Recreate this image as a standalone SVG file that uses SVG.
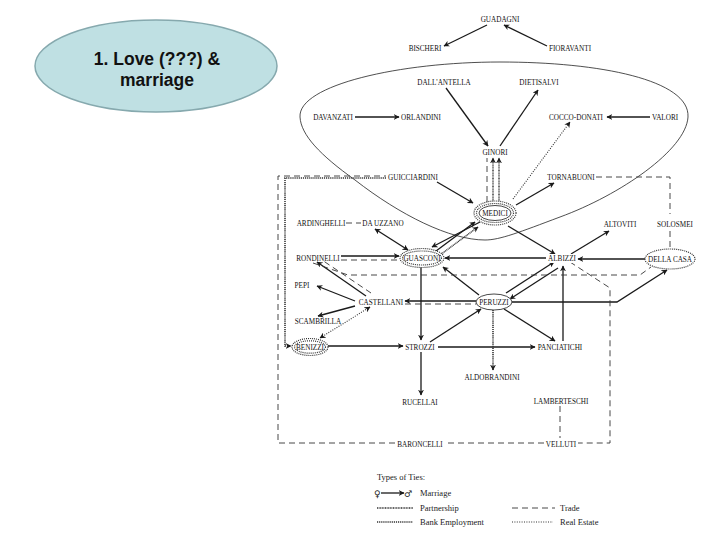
<svg xmlns="http://www.w3.org/2000/svg" width="720" height="540" viewBox="0 0 720 540">
<style>
.lbl{font-family:"Liberation Serif","Times New Roman",serif;font-size:7.2px;fill:#111;text-anchor:middle}
.leg{font-family:"Liberation Serif","Times New Roman",serif;font-size:8.5px;fill:#222}
.m{fill:none;stroke:#1a1a1a;stroke-width:1.3;marker-end:url(#ah)}
.mb{fill:none;stroke:#1a1a1a;stroke-width:1.3;marker-end:url(#ah);marker-start:url(#ahs)}
.tr{fill:none;stroke:#333;stroke-width:0.9;stroke-dasharray:6 4}
.re{fill:none;stroke:#333;stroke-width:1.1;stroke-dasharray:1 1.4}
.bk{fill:none;stroke:#333;stroke-width:1.6;stroke-dasharray:1.2 0.9}
.pt{fill:none;stroke:#333;stroke-width:1.4;stroke-dasharray:1 0.6}
.dot{fill:#fff;stroke:#333;stroke-width:1.2;stroke-dasharray:1 1}
.sol{fill:#fff;stroke:#333;stroke-width:0.9}
</style>
<defs>
<marker id="ah" viewBox="0 0 10 10" refX="9" refY="5" markerWidth="6" markerHeight="6" markerUnits="userSpaceOnUse" orient="auto"><path d="M0,0 L10,5 L0,10 L3,5 Z" fill="#1a1a1a"/></marker>
<marker id="ahs" viewBox="0 0 10 10" refX="1" refY="5" markerWidth="6" markerHeight="6" markerUnits="userSpaceOnUse" orient="auto"><path d="M10,0 L0,5 L10,10 L7,5 Z" fill="#1a1a1a"/></marker>
</defs>
<rect width="720" height="540" fill="#fff"/>

<g id="title">
<ellipse cx="156" cy="66" rx="121" ry="46" fill="#bfe0e3" stroke="#86a9ae" stroke-width="1.5"/>
<text x="157" y="65" font-family="Liberation Sans,Arial,sans-serif" font-size="17.5" font-weight="bold" text-anchor="middle" fill="#111">1. Love (???) &amp;</text>
<text x="157" y="86" font-family="Liberation Sans,Arial,sans-serif" font-size="17.5" font-weight="bold" text-anchor="middle" fill="#111">marriage</text>
</g>

<g id="medici-bloc">
<path d="M300,117 C298,85 400,62 500,62 C600,62 690,80 688,117 C686,150 620,195 560,217 C520,232 500,240 485,240 C450,240 400,215 355,180 C320,155 301,135 300,117 Z" fill="none" stroke="#222" stroke-width="0.8"/>
</g>

<g id="connectors">
<!-- marriage -->
<line class="m" x1="487" y1="25" x2="444" y2="46"/>
<line class="m" x1="547" y1="46" x2="504" y2="25"/>
<line class="m" x1="355" y1="117" x2="399" y2="117"/>
<line class="m" x1="650" y1="117" x2="607" y2="117"/>
<line class="m" x1="446" y1="88" x2="488" y2="146"/>
<line class="m" x1="500" y1="146" x2="538" y2="90"/>
<line class="m" x1="437" y1="182" x2="473" y2="203"/>
<line class="m" x1="516" y1="205" x2="554" y2="183"/>
<line class="m" x1="508" y1="226" x2="555" y2="254"/>
<line class="m" x1="571" y1="254" x2="609" y2="231"/>
<line class="m" x1="645" y1="259" x2="578" y2="259"/>
<line class="m" x1="546" y1="258" x2="445" y2="258"/>
<line class="m" x1="341" y1="256" x2="399" y2="256"/>
<line class="mb" x1="375" y1="229" x2="408" y2="250"/>
<line class="m" x1="421" y1="267" x2="421" y2="340"/>
<line class="m" x1="479" y1="295" x2="443" y2="267"/>
<line class="m" x1="476" y1="301" x2="405" y2="301"/>
<line class="m" x1="366" y1="296" x2="317" y2="262"/>
<line class="m" x1="355" y1="301" x2="317" y2="286"/>
<line class="m" x1="355" y1="306" x2="318" y2="316"/>
<line class="m" x1="328" y1="346" x2="403" y2="346"/>
<line class="m" x1="430" y1="342" x2="481" y2="309"/>
<line class="m" x1="504" y1="309" x2="555" y2="341"/>
<line class="m" x1="438" y1="347" x2="535" y2="347"/>
<line class="m" x1="421" y1="352" x2="421" y2="395"/>
<line class="m" x1="563" y1="341" x2="563" y2="266"/>
<polyline class="m" points="512,302 617,302 667,270"/>
<line class="m" x1="506" y1="293" x2="554" y2="262"/>
<line class="m" x1="558" y1="268" x2="510" y2="299"/>
<line class="m" x1="480" y1="222" x2="432" y2="247"/>
<line class="m" x1="436" y1="251" x2="475" y2="222"/>
<line class="pt" x1="440" y1="255" x2="478" y2="227" marker-end="url(#ah)"/>
<!-- Medici to Ginori -->
<line class="tr" x1="487" y1="202" x2="487" y2="158"/>
<line class="pt" x1="493" y1="203" x2="493" y2="158" marker-end="url(#ah)"/>
<line class="pt" x1="499" y1="203" x2="499" y2="158" marker-end="url(#ah)"/>
<!-- real estate / bank -->
<line class="re" x1="513" y1="199" x2="570" y2="122" marker-end="url(#ah)"/>
<line class="bk" x1="493" y1="310" x2="493" y2="370" marker-end="url(#ah)"/>
<line class="re" x1="370" y1="307" x2="320" y2="338" marker-end="url(#ah)" marker-start="url(#ahs)"/>
<polyline class="bk" points="386,178 285,178 285,346 291,346" marker-end="url(#ah)"/>
<!-- trade -->
<line class="tr" x1="346" y1="223" x2="361" y2="223"/>
<polyline class="tr" points="596,177 670,177 670,214"/>
<line class="tr" x1="670" y1="231" x2="670" y2="250"/>
<line class="tr" x1="341" y1="260" x2="399" y2="260"/>
<polyline class="tr" points="313,263 348,275 640,275 651,267"/>
<line class="tr" x1="371" y1="293" x2="322" y2="260"/>
<line class="tr" x1="405" y1="304" x2="476" y2="304"/>
<polyline class="tr" points="570,262 610,288 610,443 578,443"/>
<line class="tr" x1="544" y1="443" x2="445" y2="443"/>
<polyline class="tr" points="395,443 278,443 278,176 386,176"/>
<line class="tr" x1="560" y1="406" x2="560" y2="438"/>
</g>

<g id="guadagni"><text class="lbl" x="500" y="22">GUADAGNI</text></g>
<g id="bischeri"><text class="lbl" x="425" y="51">BISCHERI</text></g>
<g id="fioravanti"><text class="lbl" x="570" y="51">FIORAVANTI</text></g>
<g id="dallantella"><text class="lbl" x="444" y="85">DALL'ANTELLA</text></g>
<g id="dietisalvi"><text class="lbl" x="539" y="85">DIETISALVI</text></g>
<g id="davanzati"><text class="lbl" x="333" y="120">DAVANZATI</text></g>
<g id="orlandini"><text class="lbl" x="421" y="120">ORLANDINI</text></g>
<g id="cocco-donati"><text class="lbl" x="576" y="120">COCCO-DONATI</text></g>
<g id="valori"><text class="lbl" x="665" y="120">VALORI</text></g>
<g id="ginori"><text class="lbl" x="495" y="155">GINORI</text></g>
<g id="guicciardini"><text class="lbl" x="413" y="180">GUICCIARDINI</text></g>
<g id="tornabuoni"><text class="lbl" x="571" y="180">TORNABUONI</text></g>
<g id="medici">
<ellipse class="dot" cx="495" cy="213" rx="21" ry="12"/>
<ellipse class="dot" cx="495" cy="213" rx="18.5" ry="9.5"/>
<ellipse class="sol" cx="495" cy="213" rx="16" ry="7.5"/>
<text class="lbl" x="495" y="216">MEDICI</text>
</g>
<g id="ardinghelli"><text class="lbl" x="321" y="226">ARDINGHELLI</text></g>
<g id="dauzzano"><text class="lbl" x="383" y="226">DA UZZANO</text></g>
<g id="altoviti"><text class="lbl" x="620" y="227">ALTOVITI</text></g>
<g id="solosmei"><text class="lbl" x="675" y="227">SOLOSMEI</text></g>
<g id="rondinelli"><text class="lbl" x="318" y="261">RONDINELLI</text></g>
<g id="guasconi">
<ellipse class="dot" cx="422" cy="258" rx="22" ry="9.5"/>
<ellipse class="dot" cx="422" cy="258" rx="19.5" ry="7"/>
<text class="lbl" x="422" y="261">GUASCONI</text>
</g>
<g id="albizzi"><rect x="547" y="254" width="30" height="9" fill="#fff"/><text class="lbl" x="562" y="261">ALBIZZI</text></g>
<g id="dellacasa">
<ellipse class="dot" cx="670" cy="259" rx="25" ry="10"/>
<text class="lbl" x="670" y="262">DELLA CASA</text>
</g>
<g id="pepi"><text class="lbl" x="302" y="288">PEPI</text></g>
<g id="castellani"><text class="lbl" x="381" y="305">CASTELLANI</text></g>
<g id="peruzzi">
<ellipse class="sol" cx="494" cy="302" rx="18" ry="8"/>
<text class="lbl" x="494" y="305">PERUZZI</text>
</g>
<g id="scambrilla"><text class="lbl" x="318" y="324">SCAMBRILLA</text></g>
<g id="benizzi">
<ellipse class="dot" cx="310" cy="347" rx="18" ry="8.5"/>
<ellipse class="dot" cx="310" cy="347" rx="15.5" ry="6.2"/>
<text class="lbl" x="310" y="350">BENIZZI</text>
</g>
<g id="strozzi"><text class="lbl" x="420" y="350">STROZZI</text></g>
<g id="panciatichi"><text class="lbl" x="560" y="350">PANCIATICHI</text></g>
<g id="aldobrandini"><text class="lbl" x="492" y="380">ALDOBRANDINI</text></g>
<g id="lamberteschi"><text class="lbl" x="561" y="404">LAMBERTESCHI</text></g>
<g id="rucellai"><text class="lbl" x="420" y="405">RUCELLAI</text></g>
<g id="baroncelli"><text class="lbl" x="420" y="447">BARONCELLI</text></g>
<g id="velluti"><text class="lbl" x="561" y="447">VELLUTI</text></g>

<g id="legend">
<text class="leg" x="377" y="480">Types of Ties:</text>
<text x="374" y="497" font-family="DejaVu Sans,sans-serif" font-size="9" fill="#222">♀</text>
<line x1="381" y1="493" x2="404" y2="493" stroke="#1a1a1a" stroke-width="1.3" marker-end="url(#ah)"/>
<text x="404" y="497" font-family="DejaVu Sans,sans-serif" font-size="9" fill="#222">♂</text>
<text class="leg" x="420" y="496">Marriage</text>
<line class="pt" x1="377" y1="508" x2="413" y2="508"/>
<text class="leg" x="420" y="511">Partnership</text>
<line class="bk" x1="377" y1="522" x2="413" y2="522"/>
<text class="leg" x="420" y="525">Bank Employment</text>
<line class="tr" x1="512" y1="508" x2="555" y2="508"/>
<text class="leg" x="560" y="511">Trade</text>
<line class="re" x1="512" y1="522" x2="553" y2="522"/>
<text class="leg" x="560" y="525">Real Estate</text>
</g>
</svg>
